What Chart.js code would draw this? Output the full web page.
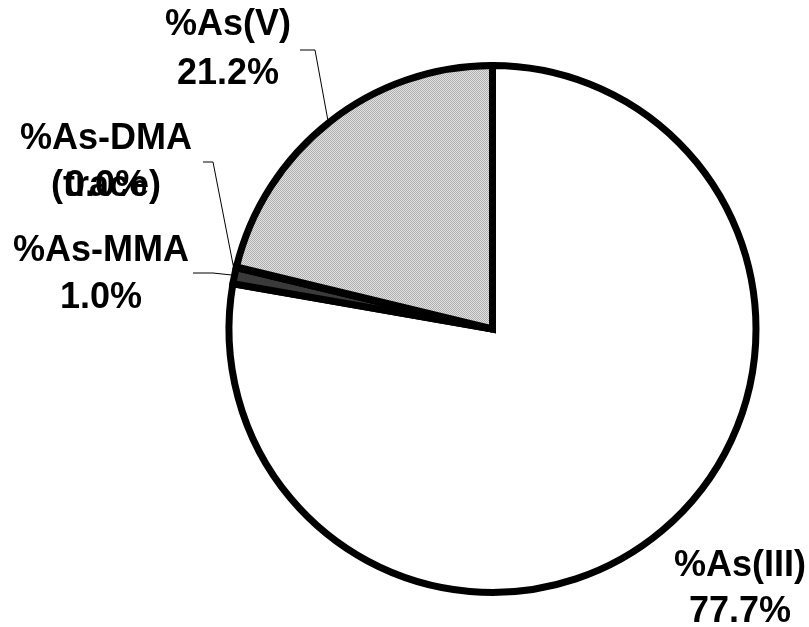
<!DOCTYPE html>
<html>
<head>
<meta charset="utf-8">
<script src="https://cdn.jsdelivr.net/npm/chart.js@4/dist/chart.umd.min.js"></script>
<style>
  html, body { margin: 0; padding: 0; background: #ffffff; }
  #wrap { position: relative; width: 809px; height: 627px; }
</style>
</head>
<body>
<div id="wrap"><canvas id="c"></canvas></div>
<script>
// ---- data ----
const categories = ['%As(III)', '%As-MMA', '%As-DMA', '%As(V)'];
const values = [77.7, 1.0, 0.04, 21.2];
const notes = ['', '', '(trace)', ''];

// ---- label layout (annotation positions, px) ----
const labelLayout = [
  { x: 740, y1: 566, y2: 612, leader: null },
  { x: 101, y1: 251, y2: 298, leader: [[213, 273], [193, 273]] },
  { x: 106, y1: 139, y2: 186, leader: [[213, 162], [203, 162]] },
  { x: 228, y1: 25,  y2: 74,  leader: [[315, 50], [300, 50]] }
];

function makePattern() {
  const p = document.createElement('canvas');
  p.width = 2; p.height = 2;
  const g = p.getContext('2d');
  g.fillStyle = '#e2e2e2'; g.fillRect(0, 0, 2, 2);
  g.fillStyle = '#aeaeae'; g.fillRect(0, 0, 1, 1); g.fillRect(1, 1, 1, 1);
  return document.getElementById('c').getContext('2d').createPattern(p, 'repeat');
}

const labelPlugin = {
  id: 'pieLabels',
  afterDatasetsDraw(chart) {
    const ctx = chart.ctx;
    const meta = chart.getDatasetMeta(0);
    ctx.save();
    meta.data.forEach((arc, i) => {
      const L = labelLayout[i];
      const mid = (arc.startAngle + arc.endAngle) / 2;
      const r = arc.outerRadius + 3;
      const ex = arc.x + Math.cos(mid) * r;
      const ey = arc.y + Math.sin(mid) * r;
      if (L.leader) {
        ctx.beginPath();
        ctx.strokeStyle = '#000';
        ctx.lineWidth = 1;
        ctx.moveTo(ex, ey);
        L.leader.forEach(p => ctx.lineTo(p[0], p[1]));
        ctx.stroke();
      }
      ctx.fillStyle = '#000';
      ctx.font = 'bold 36px "Liberation Sans", Arial, sans-serif';
      ctx.textAlign = 'center';
      ctx.textBaseline = 'middle';
      ctx.fillText(categories[i], L.x, L.y1);
      if (notes[i]) ctx.fillText(notes[i], L.x, L.y2);
      ctx.fillText(values[i].toFixed(1) + '%', L.x, L.y2);
    });
    ctx.restore();
  }
};

new Chart(document.getElementById('c'), {
  type: 'pie',
  data: {
    labels: categories,
    datasets: [{
      data: values,
      backgroundColor: ['#ffffff', '#3a3a3a', '#000000', makePattern()],
      borderColor: '#000000',
      borderWidth: 7,
      borderJoinStyle: 'miter'
    }]
  },
  options: {
    responsive: true,
    maintainAspectRatio: false,
    animation: false,
    layout: { padding: { left: 225, right: 49, top: 62, bottom: 31 } },
    plugins: { legend: { display: false }, tooltip: { enabled: false } }
  },
  plugins: [labelPlugin]
});
</script>
</body>
</html>
